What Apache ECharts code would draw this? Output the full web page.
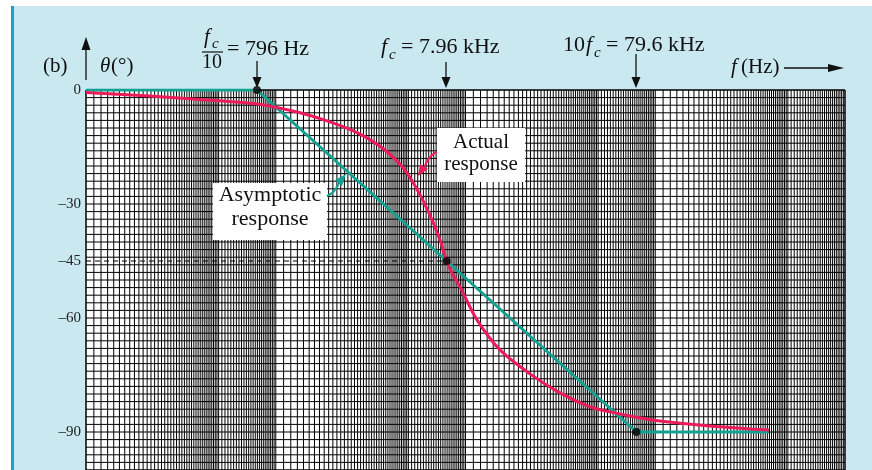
<!DOCTYPE html>
<html><head><meta charset="utf-8">
<script src="https://cdn.jsdelivr.net/npm/echarts@6/dist/echarts.min.js"></script>
<style>html,body{margin:0;padding:0;background:#fff}#c{width:872px;height:470px}</style>
</head><body><div id="c"></div>
<script>
// ---- data ----
const actualFreq  = [100, 217, 399, 796, 1342, 1932, 2780, 3766, 4800, 5757, 6661, 7337, 7960, 8489, 9354, 11497, 15197, 21870, 31477, 45310, 57735, 79600, 106000, 194370, 397700];
const actualPhase = [-0.66, -1.6, -2.5, -3.7, -6.0, -8.4, -11.6, -15.8, -21.1, -27.6, -34.2, -39.5, -45, -48.2, -51.8, -60.5, -68.4, -74.7, -79.7, -83.4, -84.7, -86.1, -87.1, -88.4, -89.5];
const asymFreq  = [100, 796, 79600, 397700];
const asymPhase = [0, 0, -90, -90];
const markFreq  = [796, 7960, 79600];
const markPhase = [0, -45, -90];
const yTickValues = [0, -30, -45, -60, -90];
const yTickText   = ['0', '–30', '–45', '–60', '–90'];
const decadeStarts = [100, 1000, 10000, 100000];
const gridDegStep = 2;

// log-paper rulings (mantissa steps: 0.1 up to 5, 0.2 from 5 to 10)
const rulingMantissas = [];
for (let m = 10; m <= 50; m++) rulingMantissas.push(m / 10);
for (let m = 52; m < 100; m += 2) rulingMantissas.push(m / 10);
const vLines = [];
decadeStarts.forEach(d => rulingMantissas.forEach(m => vLines.push([d * m, 0])));
vLines.push([1e6, 0]);
const hLines = [];
for (let g = 0; g >= -100; g -= gridDegStep) hLines.push([100, g]);

const RED = '#ec1b5b', TEAL = '#13a192', SERIF = 'Liberation Serif';
const chart = echarts.init(document.getElementById('c'), null, {renderer: 'canvas'});

function lineItem(p1, p2, w, color) {
  return {type: 'line', shape: {x1: p1[0], y1: p1[1], x2: p2[0], y2: p2[1]}, style: {stroke: color, lineWidth: w}};
}
// y = vertical middle of the text
function txt(x, y, text, size, italic, align) {
  return {type: 'text', x: x, y: y, z: 100,
    style: {text: text, font: (italic ? 'italic ' : '') + size + 'px ' + SERIF,
      fill: '#111', align: align || 'left', verticalAlign: 'middle'}};
}
function downArrow(x, y1, y2) {
  return [
    {type: 'line', z: 100, shape: {x1: x, y1: y1, x2: x, y2: y2 - 9}, style: {stroke: '#111', lineWidth: 1.3}},
    {type: 'polygon', z: 100, shape: {points: [[x - 4.5, y2 - 11], [x + 4.5, y2 - 11], [x, y2]]}, style: {fill: '#111'}}
  ];
}

const graphics = [
  {type: 'rect', z: -10, shape: {x: 11, y: 6, width: 861, height: 470}, style: {fill: '#c9e8f0'}},
  {type: 'rect', z: -9, shape: {x: 11, y: 6, width: 3, height: 470}, style: {fill: '#17a6c1'}},
  txt(43, 66, '(b)', 21),
  {type: 'line', z: 100, shape: {x1: 86, y1: 80, x2: 86, y2: 46}, style: {stroke: '#111', lineWidth: 1.3}},
  {type: 'polygon', z: 100, shape: {points: [[81.5, 50], [90.5, 50], [86, 37]]}, style: {fill: '#111'}},
  txt(100, 66, 'θ', 21, true),
  txt(111, 66, '(°)', 21),
  // fc/10 = 796 Hz
  txt(204, 37, 'f', 21, true),
  txt(212, 44, 'c', 15, true),
  {type: 'line', z: 100, shape: {x1: 202, y1: 52, x2: 223, y2: 52}, style: {stroke: '#111', lineWidth: 1.2}},
  txt(202, 62.5, '10', 20),
  txt(227, 49.5, '= 796 Hz', 22),
  ...downArrow(257, 61, 88),
  // fc = 7.96 kHz
  txt(381, 47.5, 'f', 22, true),
  txt(389, 55, 'c', 15, true),
  txt(401, 47.5, '= 7.96 kHz', 22),
  ...downArrow(446, 62, 88),
  // 10fc = 79.6 kHz
  txt(563, 45.5, '10', 22),
  txt(586, 45.5, 'f', 22, true),
  txt(594, 53, 'c', 15, true),
  txt(606, 45.5, '= 79.6 kHz', 22),
  ...downArrow(636, 54, 88),
  // f (Hz) -->
  txt(731, 67, 'f', 21, true),
  txt(741, 67, '(Hz)', 21),
  {type: 'line', z: 100, shape: {x1: 784, y1: 68, x2: 834, y2: 68}, style: {stroke: '#111', lineWidth: 1.3}},
  {type: 'polygon', z: 100, shape: {points: [[828, 64], [828, 72], [844, 68]]}, style: {fill: '#111'}},
  // label boxes
  {type: 'rect', z: 90, shape: {x: 437, y: 128, width: 88, height: 54}, style: {fill: '#fff'}},
  txt(481, 142, 'Actual', 21, false, 'center'),
  txt(481, 164, 'response', 21, false, 'center'),
  {type: 'rect', z: 90, shape: {x: 213, y: 183, width: 114, height: 57}, style: {fill: '#fff'}},
  txt(270, 195, 'Asymptotic', 22, false, 'center'),
  txt(270, 219, 'response', 22, false, 'center'),
  // pointer arrows
  {type: 'bezierCurve', z: 95, shape: {x1: 327, y1: 196, x2: 340, y2: 181, cpx1: 335, cpy1: 193}, style: {stroke: TEAL, lineWidth: 2, fill: null}},
  {type: 'polygon', z: 95, shape: {points: [[335, 180], [342, 186], [346, 174]]}, style: {fill: TEAL}},
  {type: 'bezierCurve', z: 95, shape: {x1: 437, y1: 152, x2: 424, y2: 168, cpx1: 429, cpy1: 155}, style: {stroke: RED, lineWidth: 2, fill: null}},
  {type: 'polygon', z: 95, shape: {points: [[420, 164], [428, 169], [418, 176]]}, style: {fill: RED}}
];

chart.setOption({
  animation: false,
  backgroundColor: '#ffffff',
  grid: {left: 86, right: 27, top: 90, bottom: 0, show: true, backgroundColor: '#ffffff', borderColor: '#000', borderWidth: 1, z: 0},
  xAxis: {type: 'log', logBase: 10, min: 100, max: 1e6, axisLine: {show: false}, axisTick: {show: false}, axisLabel: {show: false}, splitLine: {show: false}},
  yAxis: {type: 'value', min: -100, max: 0, axisLine: {show: false}, axisTick: {show: false}, splitLine: {show: false},
    axisLabel: {margin: 5, fontFamily: SERIF, fontSize: 15, color: '#222', customValues: yTickValues,
      formatter: v => { const i = yTickValues.indexOf(v); return i >= 0 ? yTickText[i] : ''; }}},
  graphic: graphics,
  series: [
    {type: 'custom', silent: true, z: 1, data: vLines, encode: {x: 0, y: 1},
      renderItem: (p, api) => lineItem(api.coord([api.value(0), 0]), api.coord([api.value(0), -100]), 1, '#000')},
    {type: 'custom', silent: true, z: 1, data: hLines, encode: {x: 0, y: 1},
      renderItem: (p, api) => lineItem(api.coord([100, api.value(1)]), api.coord([1e6, api.value(1)]), 1, '#000')},
    {type: 'line', silent: true, z: 3, data: [[100, -45], [7960, -45]], symbol: 'none',
      lineStyle: {color: '#000', width: 1, type: [5, 4]}},
    {type: 'line', silent: true, z: 5, data: asymFreq.map((f, i) => [f, asymPhase[i]]), symbol: 'none',
      lineStyle: {color: TEAL, width: 3}},
    {type: 'line', silent: true, z: 6, data: actualFreq.map((f, i) => [f, actualPhase[i]]), symbol: 'none', smooth: 0.3,
      lineStyle: {color: RED, width: 3}},
    {type: 'scatter', silent: true, z: 7, data: markFreq.map((f, i) => [f, markPhase[i]]), symbol: 'circle', symbolSize: 8,
      itemStyle: {color: '#000'}}
  ]
});
</script></body></html>
